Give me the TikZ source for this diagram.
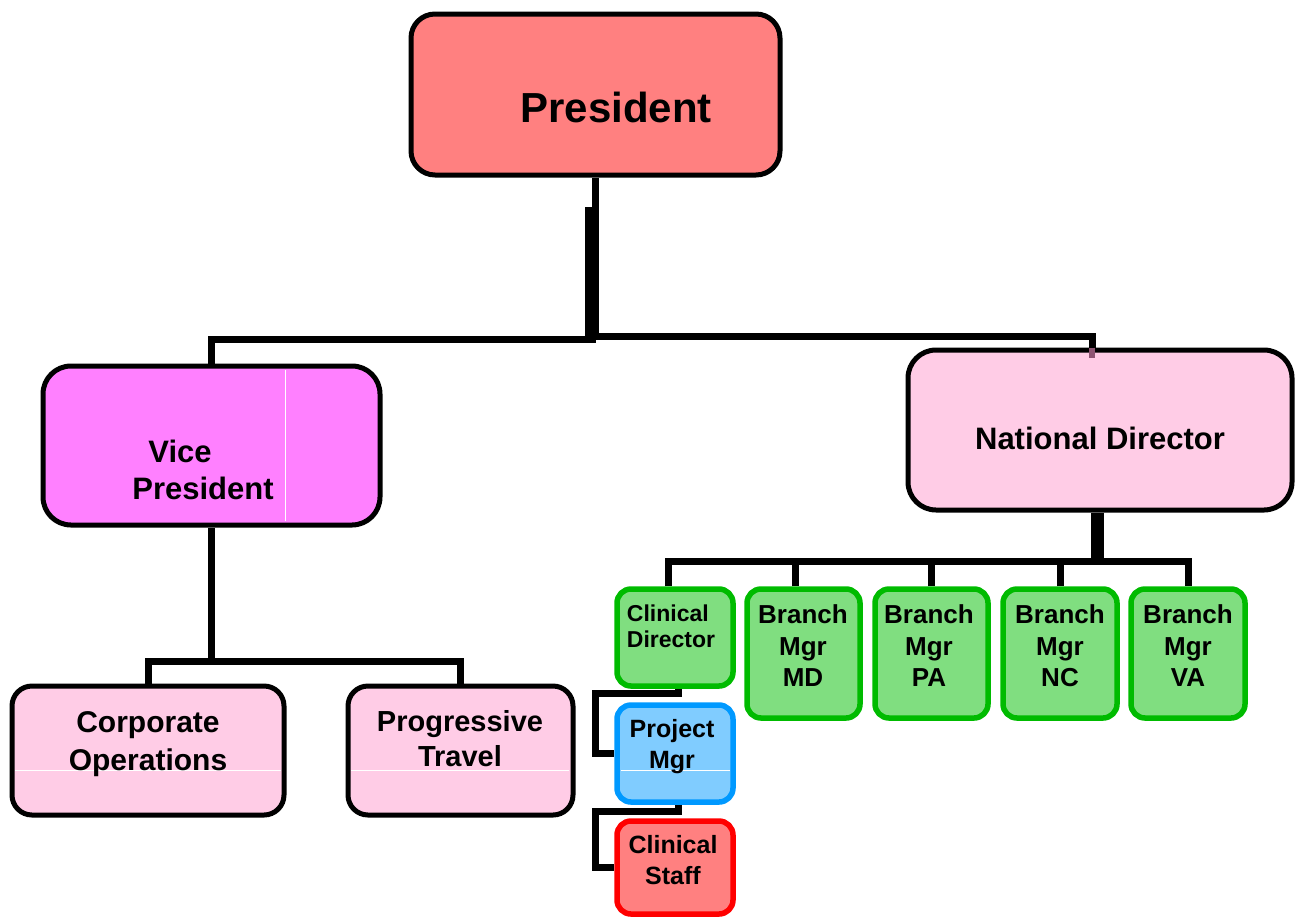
\documentclass[tikz,border=0pt]{standalone}
\usepackage{fontspec}
\setmainfont{Liberation Sans}
\begin{document}
\begin{tikzpicture}[x=1pt,y=-1pt,
  box/.style={draw=black,line width=5pt,rounded corners=24pt,inner sep=0pt},
  sbox/.style={draw,line width=5.5pt,rounded corners=14pt,inner sep=0pt,minimum width=113pt},
  conn/.style={draw=black,line width=7pt},
  txt/.style={align=center,inner sep=0pt,font=\bfseries},
  sepline/.style={draw=white,line width=1pt}]
\definecolor{presfill}{HTML}{FF8080}
\definecolor{vpfill}{HTML}{FF80FF}
\definecolor{pinkfill}{HTML}{FFCCE6}
\definecolor{gfill}{HTML}{80DE80}
\definecolor{gline}{HTML}{00BB00}
\definecolor{bfill}{HTML}{80CCFF}
\definecolor{bline}{HTML}{0099FF}
\definecolor{rline}{HTML}{FF0000}
\definecolor{mauve}{HTML}{8E5573}
\useasboundingbox (0,0) rectangle (1300,916);
% boxes
\node[box,fill=presfill,minimum width=369pt,minimum height=161pt] (pres) at (595.5,94.5) {};
\node[box,fill=vpfill,minimum width=337pt,minimum height=159pt,rounded corners=28pt] (vp) at (211.5,445.5) {};
\node[box,fill=pinkfill,minimum width=384pt,minimum height=160pt,rounded corners=28pt] (nd) at (1100,430) {};
\node[box,fill=pinkfill,minimum width=272pt,minimum height=129pt,rounded corners=20pt] (co) at (148,750.5) {};
\node[box,fill=pinkfill,minimum width=225pt,minimum height=129pt,rounded corners=20pt] (pt) at (460.5,750.5) {};
\node[sbox,draw=gline,fill=gfill,minimum width=116pt,minimum height=97pt] (cd) at (675,637.5) {};
\node[sbox,draw=gline,fill=gfill,minimum height=129pt] (md) at (803.5,653.5) {};
\node[sbox,draw=gline,fill=gfill,minimum height=129pt] (pa) at (931.5,653.5) {};
\node[sbox,draw=gline,fill=gfill,minimum height=129pt,minimum width=114pt] (nc) at (1060,653.5) {};
\node[sbox,draw=gline,fill=gfill,minimum height=129pt,minimum width=114pt] (va) at (1188,653.5) {};
\node[sbox,draw=bline,fill=bfill,minimum width=116pt,minimum height=97pt] (pm) at (675,753.5) {};
\node[sbox,draw=rline,fill=presfill,minimum width=116pt,minimum height=93pt] (cs) at (675,867.5) {};
% faint separator lines
\draw[sepline] (285,370) -- (285,521);
\draw[sepline] (15,770) -- (281,770);
\draw[sepline] (351,770) -- (569,770);
\draw[sepline] (621,770) -- (730,770);
% texts
\node[txt,font=\bfseries\fontsize{42}{48}\selectfont] (pres-t) at (616,107) {President};
\node[txt,font=\bfseries\fontsize{31}{37}\selectfont] (vp-t) at (203,470) {Vice\hspace*{46pt}\\President};
\node[txt,font=\bfseries\fontsize{31}{37}\selectfont] (nd-t) at (1100,438) {National Director};
\node[txt,font=\bfseries\fontsize{30}{38}\selectfont] (co-t) at (148,744) {Corporate\\Operations};
\node[txt,font=\bfseries\fontsize{29}{35}\selectfont] (pt-t) at (460,738.5) {Progressive\\Travel};
\node[txt,align=left,font=\bfseries\fontsize{23}{26}\selectfont] (cd-t) at (671,626) {Clinical\\Director};
\node[txt,font=\bfseries\fontsize{26}{31.5}\selectfont] (md-t) at (803,646) {Branch\\Mgr\\MD};
\node[txt,font=\bfseries\fontsize{26}{31.5}\selectfont] (pa-t) at (929,646) {Branch\\Mgr\\PA};
\node[txt,font=\bfseries\fontsize{26}{31.5}\selectfont] (nc-t) at (1060,646) {Branch\\Mgr\\NC};
\node[txt,font=\bfseries\fontsize{26}{31.5}\selectfont] (va-t) at (1188,646) {Branch\\Mgr\\VA};
\node[txt,font=\bfseries\fontsize{25}{31}\selectfont] (pm-t) at (672,747) {Project\\Mgr};
\node[txt,font=\bfseries\fontsize{25}{31}\selectfont] (cs-t) at (673,860) {Clinical\\Staff};
% connectors: President
\draw[conn] (pres.south) -- (pres.south |- 0,339) coordinate (pj);
\draw[conn] (vp.north) |- (pj);
\draw[conn] ([xshift=-7pt]pres.south |- 0,207) -- ([xshift=-7pt]pres.south |- 0,343);
\draw[conn] (pres.south |- 0,336) -| ([xshift=-8pt]nd.north);
\draw[mauve,line width=6pt] ([xshift=-8pt]nd.north) -- ++(0,10);
% Vice President
\draw[conn] (vp.south) -- ++(0,134) coordinate (vpj);
\draw[conn] (co.north) |- (vpj) -| (pt.north);
% National Director
\draw[draw=black,line width=13pt] ([xshift=-3pt]nd.south) -- ([xshift=-3pt]nd.south |- 0,561) coordinate (ndj);
\draw[conn] ([xshift=-7pt]cd.north) |- (ndj) -| (va.north);
\draw[conn] ([xshift=-8pt]md.north) -- ([xshift=-8pt]md.north |- ndj);
\draw[conn] (pa.north) -- (pa.north |- ndj);
\draw[conn] (nc.north) -- (nc.north |- ndj);
% clinical chain
\draw[conn] ([xshift=3pt]cd.south) |- (595,693) |- (pm.west);
\draw[conn] ([xshift=3pt]pm.south) |- (595,811) |- (cs.west);
\end{tikzpicture}
\end{document}
